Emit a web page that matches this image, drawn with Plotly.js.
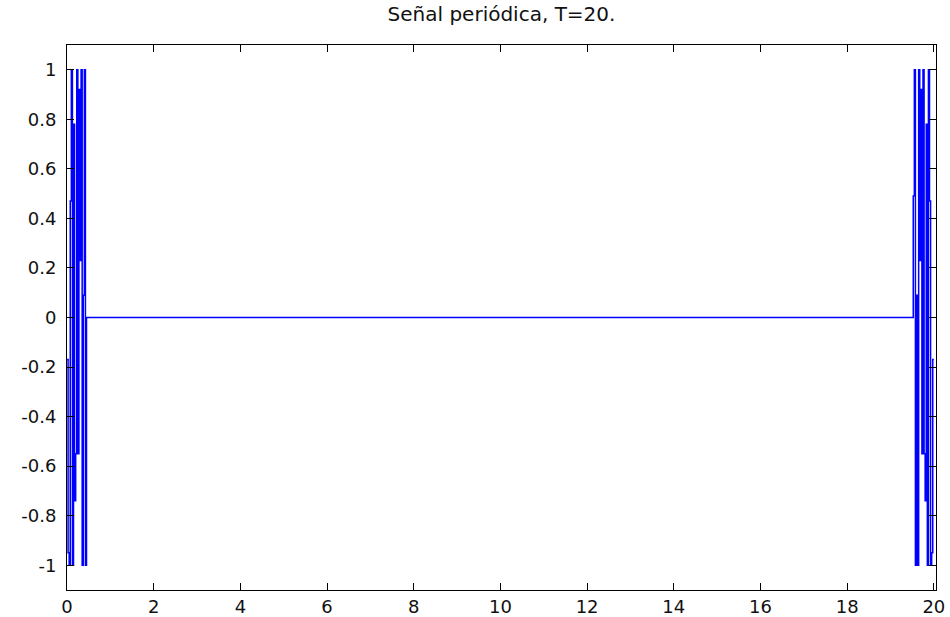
<!DOCTYPE html>
<html>
<head>
<meta charset="utf-8">
<script src="https://cdn.plot.ly/plotly-3.0.1.min.js"></script>
<style>html,body{margin:0;padding:0;background:#fff;}#chart{width:950px;height:617px;}</style>
</head>
<body>
<div id="chart"></div>
<script>
// Samples (start of the period)
var tLeft = [0, 0.025, 0.05, 0.075, 0.1, 0.125, 0.15, 0.175, 0.2, 0.225, 0.25, 0.275, 0.3, 0.325, 0.35, 0.375, 0.4, 0.425, 0.45];
var vLeft = [-0.17, -0.95, -1, 0.47, 1, -1, 0.78, -0.74, -0.55, 1, -0.55, 0.92, 0.23, 1, -1, 0.09, 1, -1, 0];
// Samples (end of the period)
var tRight = [19.5, 19.525, 19.55, 19.575, 19.6, 19.625, 19.65, 19.675, 19.7, 19.725, 19.75, 19.775, 19.8, 19.825, 19.85, 19.875, 19.9, 19.925, 19.95, 19.975, 20];
var vRight = [0, 0.49, 1, -1, 0.09, -1, 1, 0.23, 0.92, -0.55, 1, -0.55, -0.74, 0.78, -1, 1, 0.47, -1, -0.95, -0.17, -0.17];

var xTickVals = [0, 2, 4, 6, 8, 10, 12, 14, 16, 18, 20];
var xTickText = ['0', '2', '4', '6', '8', '10', '12', '14', '16', '18', '20'];
var yTickVals = [-1, -0.8, -0.6, -0.4, -0.2, 0, 0.2, 0.4, 0.6, 0.8, 1];
var yTickText = ['-1', '-0.8', '-0.6', '-0.4', '-0.2', '0', '0.2', '0.4', '0.6', '0.8', '1'];
var titleText = 'Señal periódica, T=20.';

var trace = {
  x: tLeft.concat(tRight),
  y: vLeft.concat(vRight),
  type: 'scatter',
  mode: 'lines',
  line: {color: '#0000ff', width: 1.5, shape: 'hv'},
  hoverinfo: 'skip'
};

var fontFam = 'DejaVu Sans, sans-serif';
var layout = {
  width: 950, height: 617,
  margin: {l: 67, r: 14, t: 45, b: 27, pad: 0},
  paper_bgcolor: '#ffffff', plot_bgcolor: '#ffffff',
  showlegend: false,
  font: {family: fontFam, size: 18, color: '#000'},
  title: {text: titleText, font: {family: fontFam, size: 20, color: '#111'},
          x: 0.5, xanchor: 'center', y: 1 - 14/617, yanchor: 'middle', xref: 'paper', yref: 'container'},
  xaxis: {range: [0, 20.05], tickmode: 'array', tickvals: xTickVals, ticktext: xTickText,
          ticks: 'inside', ticklen: 7, tickcolor: '#000', tickwidth: 1,
          showline: true, linecolor: '#000', linewidth: 1, mirror: 'ticks',
          showgrid: false, zeroline: false, tickfont: {family: fontFam, size: 18, color: '#111'}},
  yaxis: {range: [-1.1, 1.1], tickmode: 'array', tickvals: yTickVals, ticktext: yTickText,
          ticks: 'inside', ticklen: 7, tickcolor: '#000', tickwidth: 1, ticklabelstandoff: 6,
          showline: true, linecolor: '#000', linewidth: 1, mirror: 'ticks',
          showgrid: false, zeroline: false, tickfont: {family: fontFam, size: 18, color: '#111'}}
};

Plotly.newPlot('chart', [trace], layout, {displayModeBar: false, staticPlot: true});
</script>
</body>
</html>
